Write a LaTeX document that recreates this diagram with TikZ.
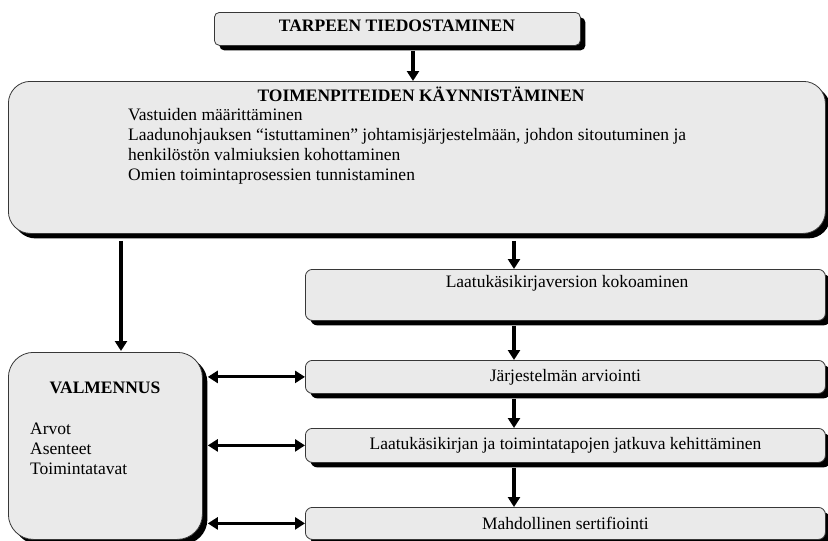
\documentclass[tikz,border=0pt]{standalone}
\usepackage{fontspec}
\setmainfont{Liberation Serif}
\usetikzlibrary{arrows.meta,positioning,calc,shadows}
\definecolor{boxgray}{RGB}{234,234,234}
\definecolor{edgegray}{RGB}{55,55,55}

\begin{document}
\begin{tikzpicture}[x=1pt, y=-1pt,
    box/.style={rectangle, draw=edgegray, line width=0.8pt, fill=boxgray, rounded corners=#1,
                drop shadow={shadow xshift=5pt, shadow yshift=-5pt, fill=black, opacity=1},
                anchor=north west, inner sep=0pt, font=\fontsize{17.5}{20}\selectfont},
    box/.default=7pt,
    txt/.style={inner sep=0pt, font=\fontsize{17.5}{20}\selectfont},
    head/.style={txt, font=\fontsize{17.5}{20}\selectfont\bfseries},
    arr/.style={-{Triangle[length=10pt, width=12pt]}, line width=3.5pt},
    darr/.style={{Triangle[length=10pt, width=12pt]}-{Triangle[length=10pt, width=12pt]}, line width=3pt}
]
    \useasboundingbox[fill=white] (0,0) rectangle (828,541);

    % boxes
    \node[box=5pt, minimum width=366pt, minimum height=33pt] (need) at (214,12) {};
    \node[box=22pt, minimum width=817pt, minimum height=152pt] (start) at (8,81) {};
    \node[box, minimum width=520pt, minimum height=51pt] (draft) at (305,269) {};
    \node[box, minimum width=520pt, minimum height=33pt] (check) at (305,360) {Järjestelmän arviointi};
    \node[box, minimum width=520pt, minimum height=34pt] (develop) at (305,428) {Laatukäsikirjan ja toimintatapojen jatkuva kehittäminen};
    \node[box, minimum width=520pt, minimum height=32pt] (cert) at (305,507) {Mahdollinen sertifiointi};
    \node[box=25pt, minimum width=194pt, minimum height=187pt] (coach) at (8,352) {};

    % texts
    \node[head, anchor=base] (needtxt) at (397,31) {TARPEEN TIEDOSTAMINEN};
    \node[head, anchor=base] (starttitle) at (421,101) {TOIMENPITEIDEN KÄYNNISTÄMINEN};
    \node[txt, anchor=north west, align=left] (tasks) at (128,108.5)
        {Vastuiden määrittäminen\\
         Laadunohjauksen “istuttaminen” johtamisjärjestelmään, johdon sitoutuminen ja\\
         henkilöstön valmiuksien kohottaminen\\
         Omien toimintaprosessien tunnistaminen};
    \node[txt, anchor=base] (drafttxt) at (567,287) {Laatukäsikirjaversion kokoaminen};
    \node[head, anchor=base] (coachtitle) at (105,393) {VALMENNUS};
    \node[txt, anchor=north west, align=left] (values) at (30,423)
        {Arvot\\Asenteet\\Toimintatavat};

    % columns of the arrows
    \coordinate (topcol) at (413,0);
    \coordinate (leftcol) at (121,0);
    \coordinate (rightcol) at (514,0);

    % arrows
    \draw[arr] ($(topcol |- need.south)+(0,5)$) -- (topcol |- start.north);
    \draw[arr] ($(leftcol |- start.south)+(0,7)$) -- ($(leftcol |- coach.north)+(0,-1)$);
    \draw[arr] ($(rightcol |- start.south)+(0,7)$) -- (rightcol |- draft.north);
    \draw[arr] ($(rightcol |- draft.south)+(0,5)$) -- (rightcol |- check.north);
    \draw[arr] ($(rightcol |- check.south)+(0,5)$) -- (rightcol |- develop.north);
    \draw[arr] ($(rightcol |- develop.south)+(0,5)$) -- (rightcol |- cert.north);

    \draw[darr] ($(coach.east |- check.west)+(5,0)$) -- (check.west);
    \draw[darr] ($(coach.east |- develop.west)+(5,0)$) -- (develop.west);
    \draw[darr] ($(coach.east |- cert.west)+(5,0)$) -- (cert.west);
\end{tikzpicture}
\end{document}
